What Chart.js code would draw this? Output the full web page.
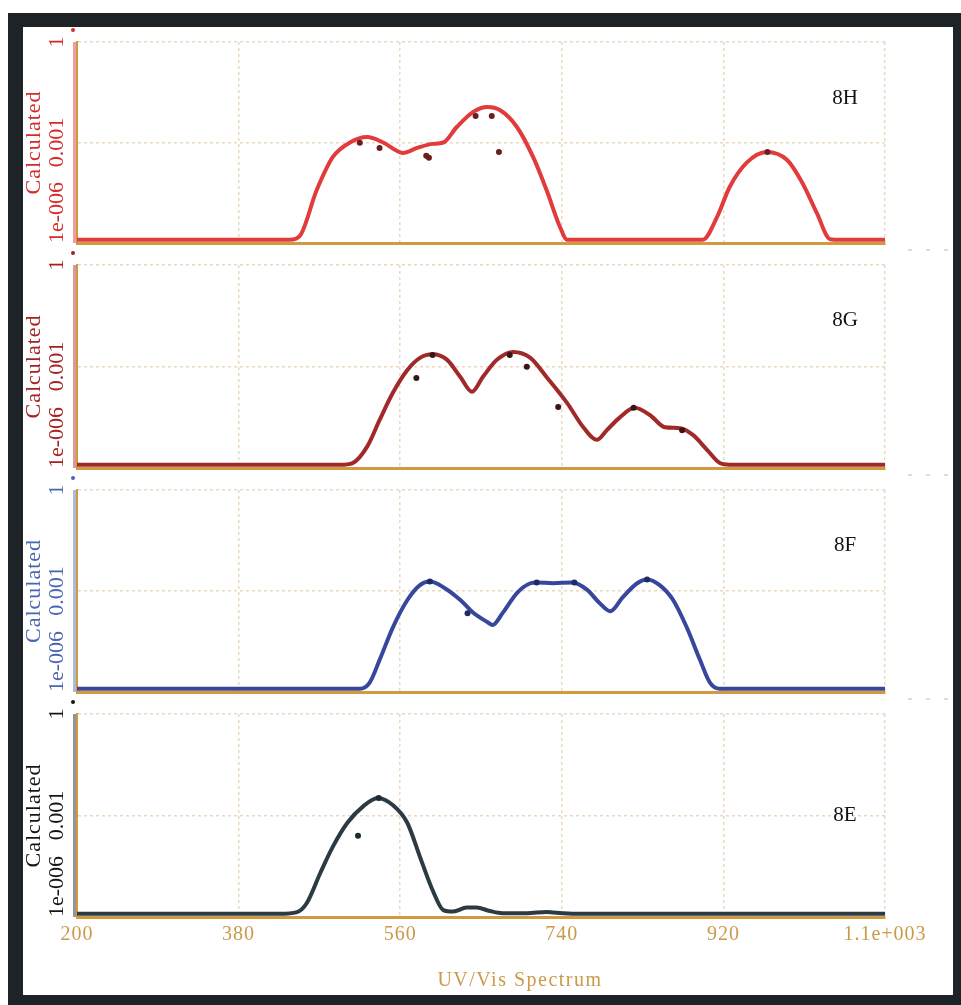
<!DOCTYPE html>
<html>
<head>
<meta charset="utf-8">
<script src="https://cdn.jsdelivr.net/npm/chart.js@4.4.0/dist/chart.umd.min.js"></script>
<style>
  body { margin: 0; background: #fff; width: 961px; height: 1005px; overflow: hidden; }
  #frame { position: absolute; left: 8px; top: 13px; width: 953px; height: 992px; background: #1e2327; }
  #sheet { position: absolute; left: 23px; top: 27px; width: 930px; height: 968px; background: #fff; }
  canvas { position: absolute; left: 23px; }
</style>
</head>
<body>
<div id="frame"></div>
<div id="sheet"></div>
<script>
const xTickValues = [200, 380, 560, 740, 920, 1100];
const xTickLabels = ['200', '380', '560', '740', '920', '1.1e+003'];
const xTitle = 'UV/Vis Spectrum';
const yTickValues = [1e-6, 1e-3, 1];
const yTickLabels = ['1e-006', '0.001', '1'];

// 8H
const wl8H = [200, 437, 448, 467, 485, 504, 523, 541, 563, 579, 596, 608, 623, 641, 657, 671, 690, 708, 723, 738, 746,
              897, 913, 927, 946, 968, 991, 1008, 1024, 1039, 1050, 1100];
const calc8H = [1.25e-6, 1.25e-6, 1.6e-6, 3.8e-5, 3.7e-4, 1.0e-3, 1.45e-3, 1.0e-3, 4.9e-4, 6.9e-4, 9.1e-4, 1.0e-3, 2.9e-3, 8.1e-3, 1.15e-2, 9.3e-3, 2.9e-3, 3.7e-4, 3.8e-5, 3.0e-6, 1.25e-6,
                1.25e-6, 6.0e-6, 4.7e-5, 2.5e-4, 5.2e-4, 3.0e-4, 6.2e-5, 7.9e-6, 1.3e-6, 1.25e-6, 1.25e-6];
const dotWl8H = [515, 537, 589, 592, 644, 662, 670, 969];
const dot8H = [9.8e-4, 6.9e-4, 4.0e-4, 3.5e-4, 6.2e-3, 6.2e-3, 5.2e-4, 5.2e-4];

// 8G
const wl8G = [200, 493, 507, 523, 537, 552, 568, 582, 596, 612, 627, 640, 652, 668, 686, 705, 723, 746, 764, 779, 790,
              805, 821, 838, 855, 872, 886, 902, 916, 927, 1100];
const calc8G = [1.25e-6, 1.25e-6, 1.4e-6, 4.2e-6, 2.6e-5, 1.7e-4, 7.9e-4, 1.8e-3, 2.3e-3, 1.6e-3, 4.9e-4, 1.8e-4, 4.9e-4, 1.6e-3, 2.7e-3, 1.8e-3, 4.9e-4, 8.3e-5, 1.6e-5, 6.8e-6, 1.3e-5,
                3.2e-5, 6.0e-5, 3.7e-5, 1.6e-5, 1.5e-5, 9.5e-6, 3.4e-6, 1.4e-6, 1.25e-6, 1.25e-6];
const dotWl8G = [578, 596, 682, 701, 736, 820, 874];
const dot8G = [4.6e-4, 2.2e-3, 2.2e-3, 9.8e-4, 6.3e-5, 6.0e-5, 1.3e-5];

// 8F
const wl8F = [200, 515, 526, 537, 552, 568, 582, 593, 608, 627, 641, 657, 663, 674, 690, 705, 712, 730, 752, 768, 782,
              794, 808, 824, 835, 849, 864, 879, 894, 905, 916, 1100];
const calc8F = [1.25e-6, 1.25e-6, 1.9e-6, 8.9e-6, 8.5e-5, 5.4e-4, 1.5e-3, 1.9e-3, 1.3e-3, 5.4e-4, 2.3e-4, 1.2e-4, 9.8e-5, 2.2e-4, 8.7e-4, 1.7e-3, 1.8e-3, 1.7e-3, 1.8e-3, 1.1e-3, 4.4e-4,
                2.5e-4, 6.6e-4, 1.7e-3, 2.2e-3, 1.5e-3, 5.4e-4, 8.5e-5, 8.9e-6, 1.9e-6, 1.25e-6, 1.25e-6];
const dotWl8F = [593, 635, 712, 754, 835];
const dot8F = [1.9e-3, 2.2e-4, 1.8e-3, 1.8e-3, 2.2e-3];

// 8E
const wl8E = [200, 426, 445, 456, 471, 485, 501, 519, 535, 552, 568, 582, 596, 608, 619, 634, 645, 660, 674, 701, 723,
              741, 760, 1100];
const calc8E = [1.25e-6, 1.25e-6, 1.4e-6, 2.6e-6, 2.0e-5, 1.2e-4, 6.0e-4, 1.9e-3, 3.3e-3, 2.0e-3, 6.0e-4, 6.0e-5, 6.3e-6, 1.6e-6, 1.45e-6, 1.9e-6, 1.9e-6, 1.5e-6, 1.3e-6, 1.3e-6, 1.4e-6,
                1.3e-6, 1.25e-6, 1.25e-6];
const dotWl8E = [513, 536];
const dot8E = [2.5e-4, 3.3e-3];

const serif = '"Liberation Serif", "Times New Roman", serif';
const gold = '#d19a3e';
const goldText = '#c99a48';
const gridColor = '#ead9bf';

const panels = [
  { name: '8H', wl: wl8H, calc: calc8H, dotWl: dotWl8H, dots: dot8H, line: '#e23b3b', dot: '#6b1e1e', text: '#d42a2a', top: 42, bottom: 243, nameDy: 56 },
  { name: '8G', wl: wl8G, calc: calc8G, dotWl: dotWl8G, dots: dot8G, line: '#a02a2a', dot: '#3b1515', text: '#a52222', top: 265, bottom: 468, nameDy: 55 },
  { name: '8F', wl: wl8F, calc: calc8F, dotWl: dotWl8F, dots: dot8F, line: '#36479d', dot: '#1f2b66', text: '#4a66b0', top: 490, bottom: 692, nameDy: 55 },
  { name: '8E', wl: wl8E, calc: calc8E, dotWl: dotWl8E, dots: dot8E, line: '#2c3b43', dot: '#1d2a30', text: '#151515', top: 714, bottom: 917, nameDy: 101 }
];

// axis extras: faint coloured rule, marker dot, rotated y labels, panel name, x title
const panelDecor = {
  id: 'panelDecor',
  beforeDraw(chart) {
    chart.ctx.letterSpacing = '1px';
  },
  beforeDatasetsDraw(chart, args, opts) {
    const { ctx, chartArea: a } = chart;
    ctx.save();
    ctx.globalAlpha = 0.45;
    ctx.strokeStyle = opts.color;
    ctx.lineWidth = 3;
    ctx.beginPath();
    ctx.moveTo(a.left - 2.5, a.top);
    ctx.lineTo(a.left - 2.5, a.bottom);
    ctx.stroke();
    ctx.globalAlpha = 1;
    ctx.fillStyle = opts.color;
    ctx.beginPath();
    ctx.arc(a.left - 4, a.top - 12, 2, 0, Math.PI * 2);
    ctx.fill();

    // little grey dashes past the right end of the axis
    if (!opts.last) {
      ctx.fillStyle = '#dcdcdc';
      [25, 43, 61].forEach(dx => ctx.fillRect(a.right + dx - 2, a.bottom + 6, 4, 2));
    }

    const ys = chart.scales.y;
    ctx.fillStyle = opts.color;
    ctx.font = '22px ' + serif;
    ctx.letterSpacing = '0px';
    ctx.textBaseline = 'middle';
    yTickValues.forEach((v, i) => {
      const py = ys.getPixelForValue(v);
      const w = ctx.measureText(yTickLabels[i]).width;
      ctx.save();
      ctx.translate(a.left - 19.5, py);
      ctx.rotate(-Math.PI / 2);
      ctx.textAlign = py + w / 2 > a.bottom ? 'left' : 'center';
      ctx.fillText(yTickLabels[i], 0, 0);
      ctx.restore();
    });

    ctx.fillStyle = '#111';
    ctx.font = '21px ' + serif;
    ctx.textAlign = 'center';
    ctx.fillText(opts.name, a.right - 40, a.top + opts.nameDy);

    if (opts.last) {
      ctx.fillStyle = goldText;
      ctx.font = '20px ' + serif;
      ctx.letterSpacing = '1.5px';
      ctx.fillText(xTitle, a.left + 443, a.bottom + 64);
    }
    ctx.restore();
  }
};

panels.forEach((p, idx) => {
  const last = idx === panels.length - 1;
  const padTop = 16;
  const xHeight = last ? 78 : 8;
  const cv = document.createElement('canvas');
  cv.width = 930;
  cv.height = padTop + (p.bottom - p.top) + xHeight;
  cv.style.top = (p.top - padTop) + 'px';
  document.body.appendChild(cv);

  new Chart(cv, {
    type: 'line',
    data: {
      datasets: [
        {
          data: p.wl.map((w, i) => ({ x: w, y: p.calc[i] })),
          borderColor: p.line,
          borderWidth: 4,
          pointRadius: 0,
          cubicInterpolationMode: 'monotone',
          borderJoinStyle: 'round',
          borderCapStyle: 'round',
          order: 2
        },
        {
          data: p.dotWl.map((w, i) => ({ x: w, y: p.dots[i] })),
          showLine: false,
          pointRadius: 3,
          pointBorderWidth: 0,
          pointBackgroundColor: p.dot,
          order: 1
        }
      ]
    },
    options: {
      responsive: false,
      animation: false,
      devicePixelRatio: 1,
      layout: { padding: { top: padTop, right: 68, left: 0, bottom: 0 } },
      plugins: {
        legend: { display: false },
        tooltip: { enabled: false },
        panelDecor: { color: p.text, name: p.name, nameDy: p.nameDy, last: last }
      },
      scales: {
        x: {
          type: 'linear',
          min: 200,
          max: 1100,
          afterBuildTicks: s => { s.ticks = xTickValues.map(v => ({ value: v })); },
          afterFit: s => { s.height = xHeight; },
          grid: { color: gridColor, lineWidth: 1.5, drawTicks: false },
          border: { color: gold, width: 3, dash: [3, 3] },
          ticks: {
            display: last,
            padding: 6,
            color: goldText,
            maxRotation: 0,
            autoSkip: false,
            font: { family: serif, size: 20 },
            callback: (v, i) => xTickLabels[i]
          }
        },
        y: {
          type: 'logarithmic',
          min: 1e-6,
          max: 1,
          afterBuildTicks: s => { s.ticks = yTickValues.map(v => ({ value: v })); },
          afterFit: s => { s.width = 54; },
          grid: { color: gridColor, lineWidth: 1.5, drawTicks: false },
          border: { color: gold, width: 2, dash: [3, 3] },
          ticks: { display: false },
          title: {
            display: true,
            text: 'Calculated',
            color: p.text,
            font: { family: serif, size: 22, lineHeight: 1 },
            padding: 0
          }
        }
      }
    },
    plugins: [panelDecor]
  });
});
</script>
</body>
</html>
